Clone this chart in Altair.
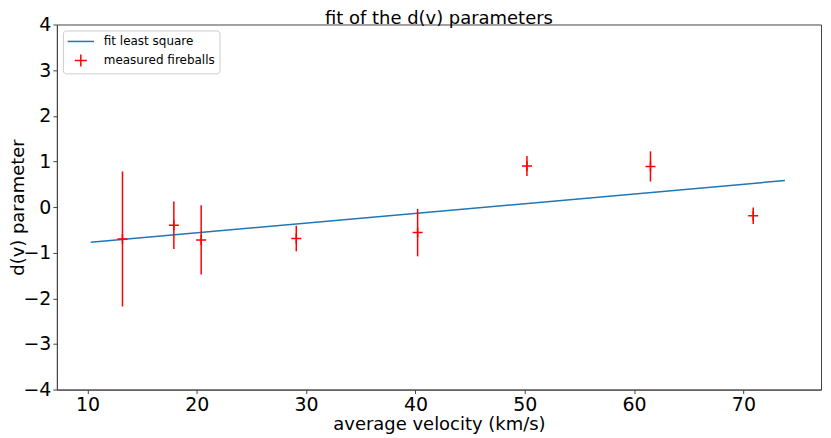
import altair as alt
import pandas as pd

# measured fireballs
velocity = [13.2, 17.9, 20.4, 29.1, 40.2, 50.2, 61.5, 70.9]
dv_param = [-0.70, -0.40, -0.72, -0.69, -0.56, 0.90, 0.89, -0.19]
dv_err = [1.48, 0.52, 0.76, 0.28, 0.52, 0.22, 0.33, 0.18]

# least-square fit line endpoints
fit_velocity = [10.3, 73.8]
fit_dv = [-0.77, 0.58]

x_ticks = [10, 20, 30, 40, 50, 60, 70]
y_ticks = [-4, -3, -2, -1, 0, 1, 2, 3, 4]

series_names = ["fit least square", "measured fireballs"]

pts = pd.DataFrame({
    "v": velocity,
    "d": dv_param,
    "lo": [a - b for a, b in zip(dv_param, dv_err)],
    "hi": [a + b for a, b in zip(dv_param, dv_err)],
    "series": series_names[1],
})
fit = pd.DataFrame({"v": fit_velocity, "d": fit_dv, "series": series_names[0]})

xs = alt.Scale(domain=[7.2, 77.1], nice=False, zero=False)
ys = alt.Scale(domain=[-4, 4], nice=False, zero=False)

color = alt.Color(
    "series:N",
    scale=alt.Scale(domain=series_names, range=["#1f77b4", "#ff0000"]),
    legend=alt.Legend(
        title=None, orient="none", legendX=6, legendY=6,
        labelFontSize=12, labelFont="DejaVu Sans", labelColor="black",
        strokeColor="#cccccc", fillColor="white", cornerRadius=3,
        padding=4, rowPadding=4, symbolStrokeWidth=1.5, symbolSize=144,
        labelOffset=16, symbolOffset=7,
    ),
)
shape = alt.Shape(
    "series:N",
    scale=alt.Scale(domain=series_names,
                    range=["M-2.2,0L2.2,0", "M-1,0L1,0M0,-1L0,1"]),
    legend=alt.Legend(title=None),
)

xax = alt.X("v:Q", scale=xs, title="average velocity (km/s)",
            axis=alt.Axis(values=x_ticks, format="d", titlePadding=1))
yax = alt.Y("d:Q", scale=ys, title="d(v) parameter",
            axis=alt.Axis(values=y_ticks, format="d", titlePadding=-5))

line = alt.Chart(fit).mark_line(strokeWidth=1.5).encode(
    x=xax, y=yax, color=color, shape=shape)

bars = alt.Chart(pts).mark_rule(color="#ff0000", strokeWidth=1.5).encode(
    x=alt.X("v:Q", scale=xs), y=alt.Y("lo:Q", scale=ys), y2="hi:Q")

marks = alt.Chart(pts).mark_point(filled=False, strokeWidth=1.5, size=100, opacity=1).encode(
    x=alt.X("v:Q", scale=xs), y=alt.Y("d:Q", scale=ys), color=color, shape=shape)

chart = alt.layer(line, bars, marks).properties(
    width=766, height=366,
    title=alt.Title("fit of the d(v) parameters", fontSize=18, fontWeight="normal",
                    font="DejaVu Sans", color="black", offset=-13),
    autosize=alt.AutoSizeParams(type="none"),
    padding={"left": 49, "top": 16, "right": 2, "bottom": 48},
).configure_axis(
    labelFont="DejaVu Sans", titleFont="DejaVu Sans", labelFontSize=19,
    titleFontSize=18, titleFontWeight="normal", labelColor="black",
    titleColor="black", tickColor="#444444", domainColor="#444444",
    tickSize=4, labelPadding=2, grid=False, domainWidth=1,
).configure_view(stroke="#444444", strokeWidth=1)

chart.save("out.html", embed_options={"renderer": "svg", "actions": False})
